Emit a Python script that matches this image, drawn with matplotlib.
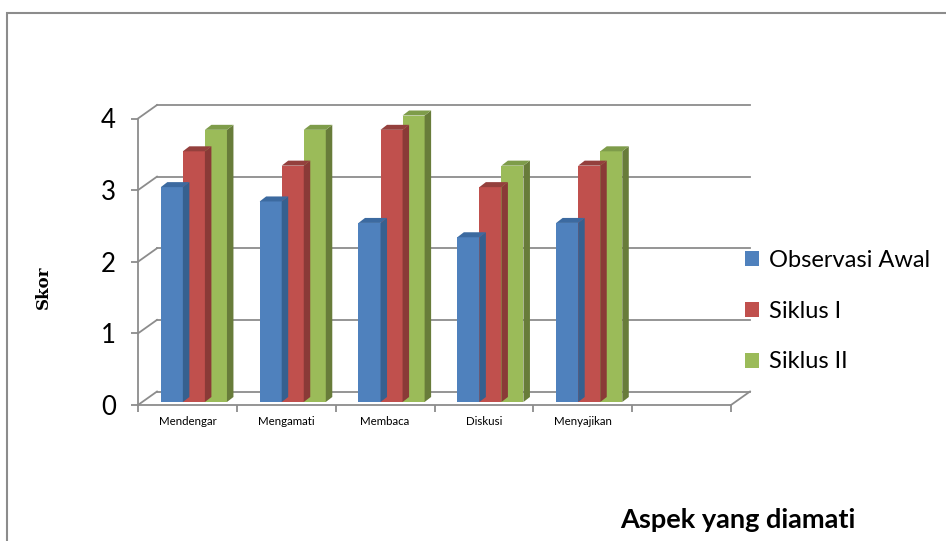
import matplotlib
matplotlib.use("Agg")
import matplotlib.pyplot as plt
from matplotlib.transforms import ScaledTranslation, IdentityTransform
from matplotlib.patches import Polygon, Patch, Rectangle
from matplotlib.lines import Line2D
import numpy as np

categories = ["Mendengar", "Mengamati", "Membaca", "Diskusi", "Menyajikan"]
series_names = ["Observasi Awal", "Siklus I", "Siklus II"]
observasi_awal = [3.0, 2.8, 2.5, 2.3, 2.5]
siklus_1 = [3.5, 3.3, 3.8, 3.0, 3.3]
siklus_2 = [3.8, 3.8, 4.0, 3.3, 3.5]
y_ticks = [0, 1, 2, 3, 4]
y_label = "Skor"
x_label = "Aspek yang diamati"

series = [observasi_awal, siklus_1, siklus_2]
front_cols = ["#4F81BD", "#C0504D", "#9BBB59"]
top_cols = ["#3C6AA0", "#94403D", "#7E9C4A"]
side_cols = ["#36608F", "#8A3A37", "#687C3A"]

FONT = ["Lato", "DejaVu Sans"]
plt.rcParams["font.family"] = FONT

W, H = 946, 541
DPI = 100
fig = plt.figure(figsize=(W / DPI, H / DPI), dpi=DPI)
fig.patch.set_facecolor("white")

# front plane of the plot: x 138..731 px, y(0)=405 px, y(4)=118.5 px
left_px, right_px, y0_px, y4_px = 138, 731, 405, 118.5
ax = fig.add_axes([left_px / W, (H - y0_px) / H, (right_px - left_px) / W, (y0_px - y4_px) / H])
ax.set_xlim(-0.5, len(categories) + 0.5)
ax.set_ylim(0, 4)
ax.patch.set_visible(False)

GRID = "#8C8C8C"
LW = 1.3
for s in ["top", "right"]:
    ax.spines[s].set_visible(False)
for s in ["left", "bottom"]:
    ax.spines[s].set_color(GRID)
    ax.spines[s].set_linewidth(LW)
    ax.spines[s].set_zorder(10)

ax.set_yticks(y_ticks)
ax.set_yticklabels([str(t) for t in y_ticks])
ax.tick_params(axis="y", length=5, width=LW, color=GRID, pad=11, labelsize=18.5)

n_slots = len(categories) + 1
ax.set_xticks(np.arange(n_slots + 1) - 0.5)
ax.set_xticklabels([])
ax.tick_params(axis="x", which="major", length=5, width=LW, color=GRID)
ax.set_xticks(np.arange(len(categories)), minor=True)
ax.set_xticklabels(categories, minor=True)
ax.tick_params(axis="x", which="minor", length=0, pad=8, labelsize=8.3)

# depth vectors in pixels
BACK = np.array([19.0, 13.5])
BAR_FRONT = np.array([4.0, 3.0])
BAR_DEPTH = np.array([6.5, 5.0])

def disp(x, y):
    return ax.transData.transform((x, y))

def pline(p0, p1, **kw):
    fig.add_artist(Line2D([p0[0], p1[0]], [p0[1], p1[1]], transform=IdentityTransform(), **kw))

# back wall gridlines
back_tr = ax.transData + ScaledTranslation(BACK[0] / DPI, BACK[1] / DPI, fig.dpi_scale_trans)
xmin, xmax = ax.get_xlim()
for t in y_ticks:
    ax.plot([xmin, xmax], [t, t], color=GRID, lw=LW, transform=back_tr, zorder=1, clip_on=False)
    p0 = disp(xmin, t)
    pline(p0, p0 + BACK, color=GRID, lw=LW, zorder=1)
p0 = disp(xmax, 0)
pline(p0, p0 + BACK, color=GRID, lw=LW, zorder=1)

# bars
bw = 0.223
shift = 0.025
front_tr = ax.transData + ScaledTranslation(BAR_FRONT[0] / DPI, BAR_FRONT[1] / DPI, fig.dpi_scale_trans)
z = 3
for i in range(len(categories)):
    for k, vals in enumerate(series):
        x0 = i + shift + (k - 1) * bw - bw / 2
        x1 = x0 + bw
        v = vals[i]
        ax.bar([x0], [v], width=bw, align="edge", color=front_cols[k], zorder=z,
               transform=front_tr, clip_on=False, linewidth=0)
        fl = disp(x0, v) + BAR_FRONT
        fr = disp(x1, v) + BAR_FRONT
        br = disp(x1, 0) + BAR_FRONT
        top = Polygon([fl, fr, fr + BAR_DEPTH, fl + BAR_DEPTH], closed=True,
                      facecolor=top_cols[k], edgecolor="none", transform=IdentityTransform(), zorder=z)
        side = Polygon([br, fr, fr + BAR_DEPTH, br + BAR_DEPTH], closed=True,
                       facecolor=side_cols[k], edgecolor="none", transform=IdentityTransform(), zorder=z)
        fig.add_artist(side)
        fig.add_artist(top)
        z += 1

# legend
handles = [Patch(facecolor=c, edgecolor="none") for c in front_cols]
fig.legend(handles, series_names, loc="center left", bbox_to_anchor=(745 / W, (H - 311) / H),
           frameon=False, fontsize=17, handlelength=0.6, handleheight=0.6,
           handletextpad=0.4, labelspacing=1.27, borderpad=0, borderaxespad=0)

fig.text(43 / W, 1 - 287 / H, y_label, rotation=90, ha="center", va="center",
         fontsize=12, fontweight="bold", family=["DejaVu Serif"])
fig.text(738 / W, 1 - 520 / H, x_label, ha="center", va="center",
         fontsize=19.5, fontweight="bold")

# outer frame
fig.add_artist(Rectangle((6.5 / W, -0.2), 2, 1.2 - 12.5 / H, transform=fig.transFigure,
                         fill=False, edgecolor="#8C8C8C", linewidth=1.5))

fig.savefig("out.png", dpi=DPI)
